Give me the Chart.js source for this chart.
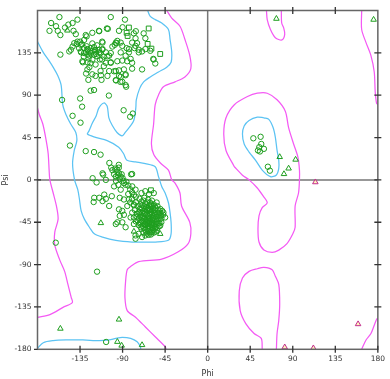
<!DOCTYPE html>
<html>
<head>
<meta charset="utf-8">
<script src="https://cdn.jsdelivr.net/npm/chart.js@4.4.1/dist/chart.umd.min.js"></script>
<style>
  html, body { margin: 0; padding: 0; background: #fff; }
  #wrap { width: 390px; height: 379px; }
</style>
</head>
<body>
<div id="wrap"><canvas id="c"></canvas></div>
<script>
// axis ticks
const phiTicks = [-135, -90, -45, 0, 45, 90, 135, 180];
const psiTicks = [-180, -135, -90, -45, 0, 45, 90, 135];
const markTicks = [-135, -90, -45, 45, 90, 135];

// contour lines [phi, psi]
const blueBeta = [[-63.5,180],[-60.7,173.7],[-55.5,170.3],[-48.6,166.7],[-41.5,159.8],[-39.8,149.4],[-38,135.5],[-38.7,125],[-43.3,119.8],[-52,114.6],[-60.7,109.4],[-67.7,104.2],[-72,97],[-75.5,85],[-76,76.5],[-78.4,62.5],[-87.2,50.4],[-90.6,46.9],[-95.9,50.4],[-101,58],[-104.5,66],[-106.3,78.2],[-109.8,81.7],[-115,76.5],[-118,68],[-121.7,60.9],[-125.5,52.1],[-127.2,48.7],[-118.6,45.2],[-106.3,41.7],[-94.1,34.8],[-88.9,27.8],[-85.4,20.8],[-76.3,19.2],[-65.9,17.4],[-55.5,14],[-52,3.5],[-48.6,-6.9],[-45,-13.9],[-41.5,-24.3],[-39.8,-34.7],[-38.7,-45.1],[-38.7,-57.3],[-41.5,-64.2],[-55.5,-66],[-69.4,-66],[-79.8,-66],[-97.2,-64.2],[-111.2,-60.8],[-119.9,-57.3],[-125.1,-50.3],[-130.4,-41.7],[-133.8,-33],[-135.6,-20.8],[-137.4,-10.4],[-140.8,0],[-142.9,17.4],[-141.1,31.3],[-138.4,41.7],[-139.5,50.4],[-144.7,59.1],[-149.9,69.5],[-153.3,79.9],[-155,100.8],[-158.6,111],[-163,119],[-168,127],[-173.9,135.5],[-180,147]];
const blueBottom = [[-180,-179],[-173.9,-173],[-163.4,-170.8],[-149.4,-170.1],[-132.1,-170.1],[-114.7,-170.8],[-104.2,-170.1],[-97.2,-168.4],[-90.3,-167.3],[-81.5,-168.4],[-74.6,-172],[-71.2,-177.2],[-70.8,-180]];
const blueAlphaL = [[59.5,66],[52.5,66.7],[43.8,63.2],[38.6,57.3],[36.8,48.7],[38.6,38.2],[43.8,29.6],[50.7,20.8],[57.7,10.4],[66.4,3.5],[72.7,5.2],[75.2,12.2],[75.2,20.8],[73.4,31.3],[71.6,45.2],[69.2,55.6],[64.7,64.3],[59.5,66]];
const pinkMain = [[-43.3,180],[-38,171.9],[-29.3,163.3],[-24.1,149.4],[-18.9,132],[-17.8,118.2],[-24.1,109.4],[-34.5,104.2],[-46.8,99],[-52,90.3],[-55.5,79.9],[-57.2,59.1],[-59.5,38.2],[-57,27],[-50,18],[-41.5,10.4],[-38,0],[-34.5,-3.4],[-29.3,-13.9],[-27.6,-27.7],[-18.9,-45.1],[-17.8,-57.3],[-20.6,-67.7],[-31.1,-76.4],[-48.6,-84.1],[-72.9,-86.8],[-81.5,-92],[-85.1,-95.5],[-86.8,-107.6],[-87.5,-125],[-85.1,-138.9],[-76.3,-145.9],[-65.9,-156.3],[-55.5,-166.7],[-45,-177.1],[-44,-180]];
const pinkLeft = [[-180,76.5],[-178.1,69.5],[-174.3,59.1],[-170.8,41.7],[-168.7,27.8],[-167.7,10.4],[-166.9,0],[-163.4,-13.9],[-160,-27.7],[-158.2,-41.7],[-161.7,-55.5],[-161.7,-69.4],[-156.5,-85],[-151.3,-97.2],[-147.8,-111.1],[-144.3,-125],[-143.2,-130.3],[-153,-135.5],[-166.9,-143.1],[-180,-146]];
const pinkTop = [[62.2,180],[63,170.3],[66.4,159.8],[71.6,151.1],[78.6,148.7],[81.5,154.6],[80.4,161.5],[78.3,166.7],[77.9,180]];
const pinkBottom = [[57.7,-180],[56.7,-168.4],[49.1,-163.2],[40.3,-152.7],[34.4,-138.9],[33.4,-118],[36.8,-104.2],[43.8,-97.2],[52.5,-94.4],[59.5,-93],[68.2,-95.5],[71.6,-102.4],[75.2,-111.1],[76.2,-131.9],[75.2,-149.3],[73.4,-163.2],[72.7,-180]];
const pinkAlphaL = [[28.2,14],[19.4,31.3],[17,48.7],[19.4,66],[28.2,79.9],[42.1,88.6],[52.5,92.1],[63,92.1],[73.4,85.1],[82.1,73],[85.6,55.6],[90.9,38.2],[95.4,24.4],[97.1,10.4],[97.1,0],[96.1,-13.9],[92.5,-27.7],[92.5,-50.3],[90.1,-57.3],[83.9,-67.7],[75.2,-74.6],[68.2,-77.1],[59.5,-74.6],[54.3,-66],[53.2,-52.1],[54.3,-38.2],[57.7,-29.5],[63,-24.3],[58.8,-17.3],[52.5,-8.6],[43.8,0],[36.8,5],[28.2,14]];
const pinkRightTop = [[162.9,180],[162.9,159.8],[167.5,145.9],[172.7,132],[176.2,114.6],[177.2,93.8],[178.6,81.7],[180,80]];
const pinkRightBottom = [[162.9,-180],[167.5,-170.1],[172.7,-163.2],[176.2,-154.5],[178.6,-148.3],[180,-147]];

// residues [phi, psi]
const betaRes = [[-156.8,173],[-165.6,166.7],[-160.4,163.3],[-167.3,158.4],[-158.6,158.4],[-155.8,153.9],[-150.9,161.9],[-147.4,165],[-142.9,166.7],[-137.7,170.3],[-141.9,158.4],[-139.5,154.9],[-129,153.9],[-130.7,148.7],[-122,156.3],[-115,158.4],[-111.6,146.9],[-137.7,146.9],[-134.9,146.9],[-141.1,145.3],[-142.9,141.7],[-138.4,144.5],[-134.2,143.5],[-130.7,140],[-127.2,138.3],[-123.8,140],[-120.2,141.1],[-118.6,136.5],[-115,138.3],[-111.6,138.3],[-113.3,134.8],[-116.8,131.3],[-120.2,133.1],[-123.8,134.8],[-127.2,133.1],[-130.7,134.8],[-134.2,136.5],[-144.7,138.3],[-146.4,136.5],[-155.8,133.1],[-132.5,126.1],[-127.2,125],[-122,127.9],[-118.6,122.6],[-111.6,127.9],[-109.8,120.9],[-113.3,115.7],[-122,112.2],[-118.6,110.5],[-127.2,117.4],[-102.5,173],[-106.6,160.9],[-93.8,158.4],[-87.5,170.3],[-90,162.2],[-92,145.9],[-96.2,145.3],[-100.8,141.7],[-98.3,143.5],[-78.1,155.7],[-76.3,150.5],[-74.7,145.3],[-77.4,140],[-72.9,138.3],[-69.4,136.5],[-85.7,140],[-83.3,135.5],[-92,135.5],[-102.5,134.8],[-106,131.3],[-107.7,124.4],[-102.5,124.4],[-95.6,126.1],[-85.1,126.1],[-79.9,124.4],[-69.4,117.4],[-57.2,127.9],[-55.4,123.7],[-67.7,155.7],[-65.9,150.5],[-88.6,117.4],[-97.2,115.7],[-104.2,115.7],[-106,110.5],[-93.8,110.5],[-86.8,112.2],[-125.1,119.8],[-128.6,113],[-112.9,111.2],[-99,115.4],[-93.8,116.4],[-79.9,118.2],[-97.2,106],[-92,109.4],[-90.3,104.2],[-86.8,100.8],[-86.8,111.2],[-65.9,139],[-60.7,137.2],[-72.9,135.5],[-76.3,142.4],[-83.3,139],[-79.9,145.9],[-95.6,147.7],[-97.2,145.9],[-90.3,142.4],[-86.8,132],[-90.3,126.8],[-81.5,128.6],[-102.5,125],[-104.2,132],[-107.7,135.5],[-111.2,139],[-111.2,145.9],[-114.7,135.5],[-118.1,133.8],[-121.7,137.2],[-125.1,132],[-128.6,135.5],[-126.9,139],[-133.8,135.5],[-132.1,125],[-128,142],[-125,136],[-131,131],[-136,140],[-119,138],[-117,143],[-122,145],[-126,129],[-133,144],[-110,131],[-114,128],[-124,124],[-57.5,128.6],[-105.6,160.5],[-114.7,158],[-128,152.5],[-76,158]];
const midRes = [[-154,85],[-134.9,86.5],[-132.8,77.8],[-142.9,68.1],[-134.5,60.8],[-145.7,36.5],[-129,30.6],[-120.2,29.6],[-113.3,26.8],[-104.5,89.6],[-88.9,74],[-79.2,70.5],[-82,67.1],[-123.8,94.8],[-120.2,95.5],[-126.2,106.3],[-112.3,106.3],[-96.9,105.7],[-92.4,104.2],[-86.2,99]];
const alphaRes = [[-100.8,10.4],[-95.6,8.8],[-93.8,7],[-92,3.5],[-97.2,3.5],[-121.7,1.8],[-111.2,7],[-79.9,6.3],[-98,12],[-96,11],[-94,13],[-91,6],[-90,2],[-95,5],[-99,6],[-93,1],[-97,-1],[-89,-1],[-102,13],[-94,16],[-104,18],[-117.5,-2.7],[-107.7,0],[-110.5,5.6],[-99,-6.9],[-94.5,-5.2],[-88.6,-3.4],[-81,5.9],[-79.8,-6.9],[-76.3,-10.4],[-120,-19],[-120.6,-23.5],[-114.7,-19],[-109.4,-15.6],[-107.7,-20.1],[-104.2,-27.7],[-101.4,-17.3],[-111.2,-22.5],[-93,-19],[-93.8,-31.3],[-90.3,-33],[-88.6,-37.1],[-93,-38.2],[-95.5,-45.1],[-97.2,-46.9],[-90.3,-45.1],[-86.8,-50.3],[-78,-46.9],[-79.8,-34.7],[-85,-27.7],[-83.3,-20.8],[-88.6,-20.8],[-92,-10.4],[-86.8,-5.2],[-81.5,-39.9],[-78.1,-26],[-76.3,-59],[-76.3,-62.5],[-72.9,-57.3],[-86,-2],[-84,-6],[-82,-10],[-80,-13],[-78,-16],[-76,-18],[-80,-20],[-84,-15],[-82,-24],[-78,-27],[-66,-12],[-62,-15],[-57,-14],[-70,-14],[-72,-20],[-67,-19],[-63,-21],[-59,-22],[-76,-24],[-70,-23],[-66,-25],[-61,-24],[-57,-26],[-54,-24],[-74,-28],[-69,-27],[-65,-29],[-62,-27],[-58,-30],[-53,-28],[-50,-31],[-77,-32],[-72,-31],[-68,-33],[-64,-32],[-60,-34],[-56,-32],[-52,-35],[-48,-33],[-75,-36],[-71,-37],[-67,-36],[-63,-38],[-59,-37],[-55,-39],[-51,-38],[-47,-37],[-78,-40],[-73,-41],[-69,-40],[-65,-42],[-61,-41],[-57,-43],[-53,-42],[-49,-41],[-76,-44],[-71,-45],[-67,-44],[-63,-46],[-59,-45],[-55,-47],[-51,-46],[-73,-48],[-69,-49],[-65,-48],[-61,-50],[-57,-49],[-53,-51],[-70,-52],[-66,-53],[-62,-54],[-58,-53],[-55,-55],[-68,-56],[-64,-57],[-60,-58],[-66,-35],[-62,-40],[-58,-41],[-64,-44],[-60,-47],[-56,-36],[-68,-38],[-70,-43],[-62,-31],[-66,-47],[-58,-33],[-54,-44],[-72,-34],[-46.8,-34.7],[-45,-39.9],[-50.2,-48.6],[-53.7,-53.8],[-58.9,-55.5],[-62.4,-58.4],[-65.9,-59],[-69.4,-60.7],[-68,-22],[-64,-24],[-60,-26],[-56,-28],[-71,-26],[-67,-28],[-63,-30],[-59,-28],[-55,-30],[-52,-32],[-70,-30],[-66,-31],[-61,-32],[-57,-35],[-54,-36],[-50,-35],[-73,-35],[-69,-35],[-65,-37],[-61,-36],[-57,-39],[-53,-39],[-49,-38],[-75,-39],[-71,-39],[-67,-41],[-63,-42],[-59,-42],[-55,-42],[-51,-42],[-74,-43],[-69,-44],[-65,-45],[-61,-44],[-57,-46],[-53,-46],[-49,-45],[-72,-46],[-67,-47],[-63,-49],[-59,-48],[-55,-50],[-51,-49],[-71,-50],[-67,-51],[-63,-52],[-59,-51],[-56,-52],[-65,-55],[-61,-56],[-57,-56]];
const otherRes = [[-160.7,-66.7],[-117,-97.5],[-107.4,-172.2],[48.3,44.2],[56,45.8],[56.7,38.2],[54.6,34.8],[59.5,33],[55.3,30.2],[53.2,31.3],[63.7,14],[65.8,9.8]];
const proRes = [[-83.3,161.9],[-85.7,156.3],[-84.7,152.9],[-62.4,160.9],[-63.5,144.5],[-59.5,139.5],[-50.2,133.8],[-60,-11]];
const glyRes = [[-148.4,158.8],[-113,-45.8],[-155.8,-158],[-93.8,-148.3],[-95.5,-172],[-91,-176],[-69.4,-175.4],[-50.2,-57.3],[-78,-54.8],[72.7,171.3],[175.5,170.3],[76.2,24.4],[93,21.6],[85.6,12.2],[80.7,6.3]];
const outlierRes = [[113.9,-2.4],[159.1,-153.2],[81.5,-177.8],[111.8,-178.8]];

const GREEN = '#1e9e1e';
const BLUE = '#5cc3f3';
const PINK = '#f45af4';
const xy = a => a.map(p => ({ x: p[0], y: p[1] }));

function contour(pts, color) {
  return { data: xy(pts), showLine: true, borderColor: color, borderWidth: 1.25,
           pointRadius: 0, tension: 0.3, fill: false, order: 10 };
}
function residues(pts, style, r, color, bg) {
  return { data: xy(pts), showLine: false, pointStyle: style, pointRadius: r,
           borderColor: color, backgroundColor: bg || 'rgba(0,0,0,0)', borderWidth: 1, order: 1 };
}

const frame = {
  id: 'frame',
  beforeDatasetsDraw(chart) {
    const { ctx, chartArea: a, scales: { x, y } } = chart;
    ctx.save();
    ctx.strokeStyle = '#777'; ctx.lineWidth = 1.5;
    ctx.beginPath();
    ctx.moveTo(x.getPixelForValue(0), a.top); ctx.lineTo(x.getPixelForValue(0), a.bottom);
    ctx.moveTo(a.left, y.getPixelForValue(0)); ctx.lineTo(a.right, y.getPixelForValue(0));
    ctx.stroke();
    ctx.restore();
  },
  afterDatasetsDraw(chart) {
    const { ctx, chartArea: a, scales: { x, y } } = chart;
    ctx.save();
    ctx.strokeStyle = '#666'; ctx.lineWidth = 1.5;
    ctx.strokeRect(a.left, a.top, a.right - a.left, a.bottom - a.top);
    ctx.strokeStyle = '#333'; ctx.lineWidth = 1.3;
    ctx.beginPath();
    markTicks.forEach(v => {
      const px = x.getPixelForValue(v), py = y.getPixelForValue(v);
      ctx.moveTo(px, a.top - 3.5); ctx.lineTo(px, a.top + 3.5);
      ctx.moveTo(px, a.bottom - 3.5); ctx.lineTo(px, a.bottom + 3.5);
      ctx.moveTo(a.left - 3.5, py); ctx.lineTo(a.left + 3.5, py);
      ctx.moveTo(a.right - 3.5, py); ctx.lineTo(a.right + 3.5, py);
    });
    const zx = x.getPixelForValue(0), zy = y.getPixelForValue(0);
    ctx.moveTo(zx, a.bottom - 3.5); ctx.lineTo(zx, a.bottom + 3.5);
    ctx.moveTo(a.left - 3.5, zy); ctx.lineTo(a.left + 3.5, zy);
    ctx.moveTo(a.right - 3.5, zy); ctx.lineTo(a.right + 3.5, zy);
    ctx.moveTo(a.right, a.bottom - 3.5); ctx.lineTo(a.right, a.bottom + 3.5);
    ctx.moveTo(a.left - 3.5, a.bottom); ctx.lineTo(a.left, a.bottom);
    ctx.stroke();
    ctx.restore();
  }
};

const tickFont = { family: 'DejaVu Sans', size: 7.5 };
const titleFont = { family: 'DejaVu Sans', size: 8 };

new Chart(document.getElementById('c'), {
  type: 'scatter',
  data: {
    datasets: [
      contour(blueBeta, BLUE), contour(blueBottom, BLUE), contour(blueAlphaL, BLUE),
      contour(pinkMain, PINK), contour(pinkLeft, PINK), contour(pinkTop, PINK),
      contour(pinkBottom, PINK), contour(pinkAlphaL, PINK),
      contour(pinkRightTop, PINK), contour(pinkRightBottom, PINK),
      residues(betaRes, 'circle', 2.7, GREEN),
      residues(midRes, 'circle', 2.7, GREEN),
      residues(alphaRes, 'circle', 2.7, GREEN),
      residues(otherRes, 'circle', 2.7, GREEN),
      residues(proRes, 'rect', 3.4, GREEN),
      residues(glyRes, 'triangle', 3.2, GREEN),
      residues(outlierRes, 'triangle', 3.2, '#c22c8e', 'rgba(255,236,130,0.55)')
    ]
  },
  options: {
    responsive: true,
    maintainAspectRatio: false,
    animation: false,
    layout: { padding: { top: 4, right: 8, left: 0, bottom: 0 } },
    plugins: { legend: { display: false }, tooltip: { enabled: false } },
    scales: {
      x: {
        type: 'linear', min: -180, max: 180,
        afterBuildTicks: s => { s.ticks = phiTicks.map(v => ({ value: v })); },
        afterFit: s => { s.height = 29.7; },
        grid: { display: false, drawTicks: false },
        border: { display: false },
        ticks: { font: tickFont, color: '#333', padding: 5, autoSkip: false, maxRotation: 0 },
        title: { display: true, text: 'Phi', font: titleFont, color: '#333', padding: { top: 0, bottom: 0 } }
      },
      y: {
        type: 'linear', min: -180, max: 180,
        afterBuildTicks: s => { s.ticks = psiTicks.map(v => ({ value: v })); },
        afterFit: s => { s.width = 37.5; },
        grid: { display: false, drawTicks: false },
        border: { display: false },
        ticks: { font: tickFont, color: '#333', padding: 6, autoSkip: false },
        title: { display: true, text: 'Psi', font: titleFont, color: '#333', padding: { top: 1.5, bottom: 0 } }
      }
    }
  },
  plugins: [frame]
});
</script>
</body>
</html>
